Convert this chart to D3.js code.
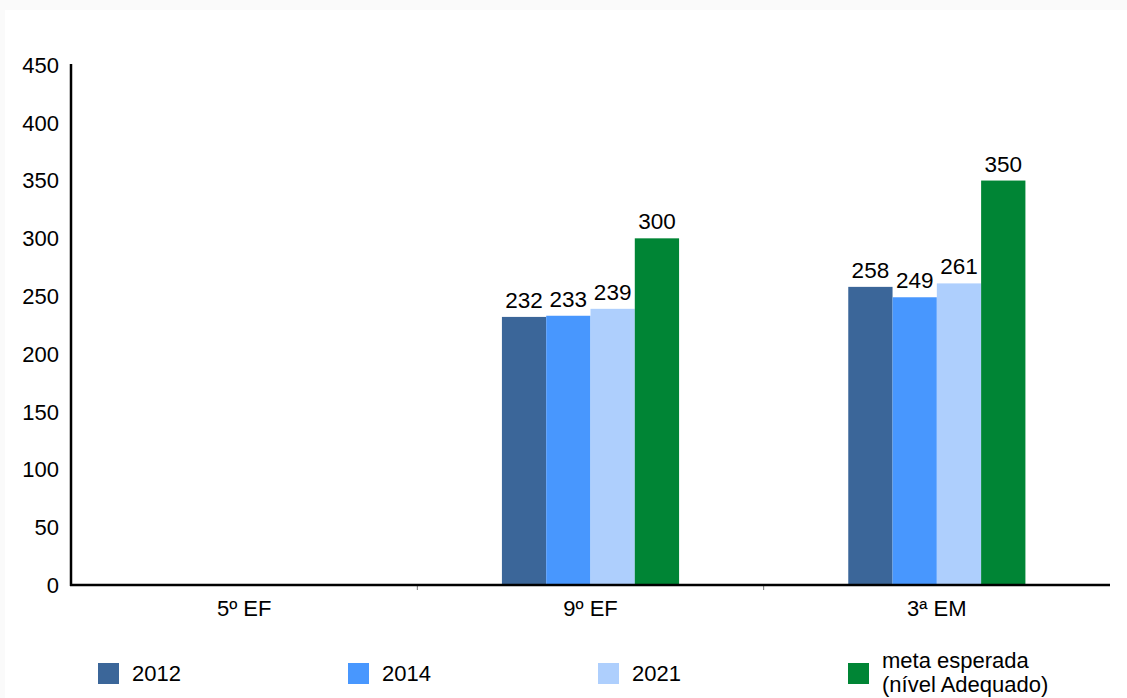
<!DOCTYPE html>
<html>
<head>
<meta charset="utf-8">
<script src="https://cdn.jsdelivr.net/npm/d3@7"></script>
<style>
  html, body { margin: 0; padding: 0; background: #fafafa; }
  svg { display: block; font-family: "Liberation Sans", Arial, sans-serif; }
</style>
</head>
<body>
<div id="chart"></div>
<script>
// Data
const categories = ['5º EF', '9º EF', '3ª EM'];
const seriesNames = ['2012', '2014', '2021', 'meta'];
const seriesLabels = ['2012', '2014', '2021', ['meta esperada', '(nível Adequado)']];
const seriesColors = ['#3b6699', '#4897fe', '#aecffd', '#008535'];
const values2012 = [null, 232, 258];
const values2014 = [null, 233, 249];
const values2021 = [null, 239, 261];
const valuesMeta = [null, 300, 350];
const yTicks = [0, 50, 100, 150, 200, 250, 300, 350, 400, 450];

const W = 1127, H = 698;
const plot = { left: 71, right: 1110, top: 65, bottom: 585 };
const fontSize = 22;

const svg = d3.select('#chart').append('svg')
    .attr('width', W)
    .attr('height', H);

// white chart area
svg.append('rect')
    .attr('x', 5).attr('y', 10)
    .attr('width', W - 5).attr('height', H - 10)
    .attr('fill', '#fff');

const x = d3.scaleBand()
    .domain(categories)
    .range([plot.left, plot.right])
    .padding(0);

const xSub = d3.scaleBand()
    .domain(seriesNames)
    .range([0, x.bandwidth()])
    .paddingInner(0)
    .paddingOuter(1.91);

const y = d3.scaleLinear()
    .domain([0, 450])
    .range([plot.bottom, plot.top]);

// y axis labels
svg.append('g').selectAll('text')
    .data(yTicks)
    .join('text')
    .attr('x', 59)
    .attr('y', d => y(d))
    .attr('dy', '0.36em')
    .attr('text-anchor', 'end')
    .attr('font-size', fontSize)
    .attr('fill', '#000')
    .text(d => d);

// bars
const table = categories.map((c, i) => ({
    cat: c,
    vals: [values2012[i], values2014[i], values2021[i], valuesMeta[i]]
}));

const groups = svg.append('g').selectAll('g')
    .data(table)
    .join('g')
    .attr('transform', d => `translate(${x(d.cat)},0)`);

const cells = groups.selectAll('g')
    .data(d => d.vals.map((v, j) => ({ key: seriesNames[j], v, j })).filter(e => e.v != null))
    .join('g');

cells.append('rect')
    .attr('x', d => xSub(d.key))
    .attr('y', d => y(d.v))
    .attr('width', xSub.bandwidth())
    .attr('height', d => y(0) - y(d.v))
    .attr('fill', d => seriesColors[d.j]);

cells.append('text')
    .attr('x', d => xSub(d.key) + xSub.bandwidth() / 2)
    .attr('y', d => y(d.v) - 9)
    .attr('text-anchor', 'middle')
    .attr('font-size', fontSize + 0.5)
    .attr('fill', '#000')
    .text(d => d.v);

// category ticks
svg.append('g').selectAll('line')
    .data(categories.slice(1))
    .join('line')
    .attr('x1', d => x(d)).attr('x2', d => x(d))
    .attr('y1', plot.bottom).attr('y2', plot.bottom + 5)
    .attr('stroke', '#777')
    .attr('stroke-width', 1);

// category labels
svg.append('g').selectAll('text')
    .data(categories)
    .join('text')
    .attr('x', d => x(d) + x.bandwidth() / 2)
    .attr('y', 616)
    .attr('text-anchor', 'middle')
    .attr('font-size', fontSize)
    .attr('fill', '#000')
    .text(d => d);

// axes lines
svg.append('line')
    .attr('x1', plot.left).attr('x2', plot.left)
    .attr('y1', plot.top - 1).attr('y2', plot.bottom + 1)
    .attr('stroke', '#000').attr('stroke-width', 2.5);
svg.append('line')
    .attr('x1', plot.left - 1).attr('x2', plot.right)
    .attr('y1', plot.bottom).attr('y2', plot.bottom)
    .attr('stroke', '#000').attr('stroke-width', 2.5);

// legend
const legend = svg.append('g').selectAll('g')
    .data(seriesNames)
    .join('g')
    .attr('transform', (d, i) => `translate(${98 + i * 250},663)`);

legend.append('rect')
    .attr('width', 21).attr('height', 21)
    .attr('fill', (d, i) => seriesColors[i]);

legend.each(function (d, i) {
    const lab = seriesLabels[i];
    const t = d3.select(this).append('text')
        .attr('x', 34)
        .attr('font-size', fontSize)
        .attr('fill', '#000');
    if (Array.isArray(lab)) {
        t.selectAll('tspan').data(lab).join('tspan')
            .attr('x', 34)
            .attr('y', (s, k) => 5 + k * 24)
            .text(s => s);
    } else {
        t.attr('y', 18).text(lab);
    }
});
</script>
</body>
</html>
